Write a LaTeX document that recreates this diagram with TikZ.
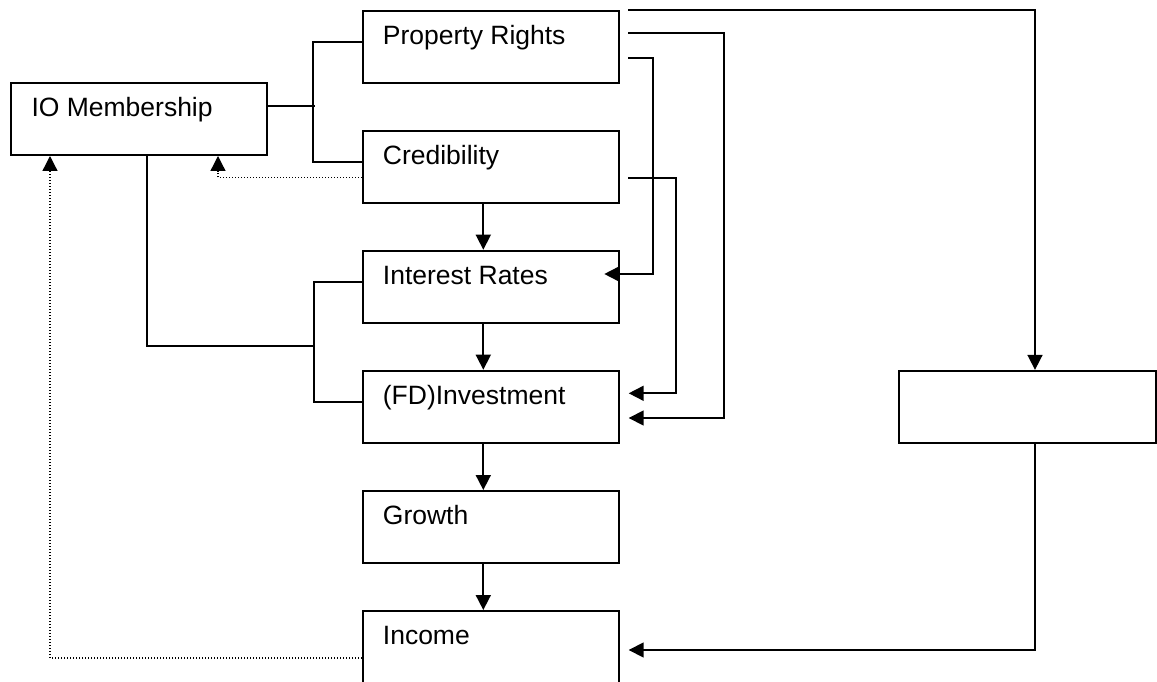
\documentclass[tikz,border=0pt]{standalone}
\usepackage{fontspec}
\setmainfont{Liberation Sans}
\usetikzlibrary{arrows.meta}
\begin{document}
\begin{tikzpicture}[x=1pt,y=-1pt,
  box/.style={draw, line width=2pt, minimum width=256.6pt, minimum height=72.3pt, inner sep=0pt},
  lbl/.style={anchor=base west, inner sep=0pt, font=\fontsize{26.5}{30}\selectfont},
  conn/.style={line width=1.7pt},
  arr/.style={conn, -{Triangle[length=15pt,width=15pt]}},
  dotarr/.style={line width=1.3pt, dash pattern=on 1.2pt off 1.8pt, -{Triangle[length=15pt,width=15pt]}}]
\useasboundingbox (0,0) rectangle (1157,682);
% boxes
\node[box] (pr)  at (491,46.85)  {};
\node[box] (cr)  at (491,166.85) {};
\node[box] (ir)  at (491,286.85) {};
\node[box] (inv) at (491,406.85) {};
\node[box] (gr)  at (491,527.15) {};
\node[box] (inc) at (491,647.15) {};
\node[box] (io)  at (139,118.85) {};
\node[box] (rb)  at (1027.35,407) {};
% labels
\node[lbl] (prT)  at ([xshift=21pt,yshift=-34.7pt]pr.north west)  {Property Rights};
\node[lbl] (crT)  at ([xshift=21pt,yshift=-34.7pt]cr.north west)  {Credibility};
\node[lbl] (irT)  at ([xshift=21pt,yshift=-34.7pt]ir.north west)  {Interest Rates};
\node[lbl] (invT) at ([xshift=21pt,yshift=-34.7pt]inv.north west) {(FD)Investment};
\node[lbl] (grT)  at ([xshift=21pt,yshift=-34.7pt]gr.north west)  {Growth};
\node[lbl] (incT) at ([xshift=21pt,yshift=-34.7pt]inc.north west) {Income};
\node[lbl] (ioT)  at ([xshift=21.6pt,yshift=-34.7pt]io.north west) {IO Membership};
% free-end coordinates
\coordinate (prA)  at ([xshift=8pt,yshift=-0.3pt]pr.north east);
\coordinate (prB)  at ([xshift=8pt,yshift=-23.6pt]pr.north east);
\coordinate (prC)  at ([xshift=8pt,yshift=-48.3pt]pr.north east);
\coordinate (crA)  at ([xshift=8pt,yshift=-48pt]cr.north east);
\coordinate (invA) at ([xshift=8.4pt,yshift=-23.6pt]inv.north east);
\coordinate (invB) at ([xshift=8.4pt,yshift=-48.3pt]inv.north east);
\coordinate (irA)  at ([xshift=-16pt,yshift=-24.3pt]ir.north east);
\coordinate (incA) at ([xshift=8.4pt,yshift=-40pt]inc.north east);
\coordinate (jB)   at ([xshift=-48pt,yshift=-96.3pt]ir.north west);
% vertical chain
\draw[arr] ([xshift=-7.7pt]cr.south)  -- ([xshift=-7.7pt]ir.north);
\draw[arr] ([xshift=-7.7pt]ir.south)  -- ([xshift=-7.7pt]inv.north);
\draw[arr] ([xshift=-7.7pt]inv.south) -- ([xshift=-7.7pt]gr.north);
\draw[arr] ([xshift=-7.7pt]gr.south)  -- ([xshift=-7.7pt]inc.north);
% right side connectors
\draw[arr] (prA) -| ([xshift=7.65pt]rb.north);
\draw[arr] (prB) -- ++(95.4,0) |- (invB);
\draw[arr] (prC) -- ++(24.4,0) |- (irA);
\draw[arr] (crA) -- ++(47.7,0) |- (invA);
\draw[arr] ([xshift=7.65pt]rb.south) |- (incA);
% left side connectors
\draw[conn] ([yshift=-24.3pt]io.north east) -- ++(47,0);
\draw[conn] ([yshift=-32pt]pr.north west) -- ++(-48.4,0) |- ([yshift=-32pt]cr.north west);
\draw[conn] ([yshift=-32.3pt]ir.north west) -- ++(-48,0) |- ([yshift=-32.3pt]inv.north west);
\draw[conn] ([xshift=7.7pt]io.south) |- (jB);
% dotted feedback
\draw[dotarr] ([yshift=-48pt]cr.north west) -| ([xshift=208.3pt]io.south west);
\draw[dotarr] ([yshift=-48pt]inc.north west) -| ([xshift=40.3pt]io.south west);
\end{tikzpicture}
\end{document}
